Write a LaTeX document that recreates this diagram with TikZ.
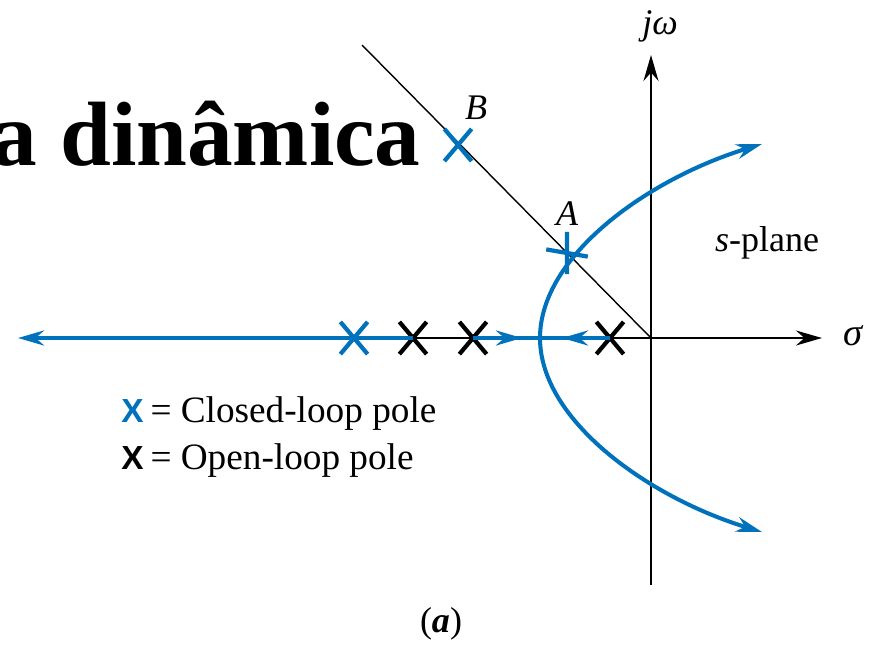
\documentclass[tikz,border=0pt]{standalone}
\usepackage{fontspec}
\setmainfont{Liberation Serif}
\newfontfamily\legendsans{Liberation Sans}
\usetikzlibrary{arrows.meta,shapes.misc}
\definecolor{locusblue}{RGB}{0,114,188}

\begin{document}
\begin{tikzpicture}[x=0.02cm,y=-0.02cm,>={Stealth[length=0.52cm,width=0.3cm]},
		pole/.style={cross out,draw,line width=2.4pt,minimum width=0.46cm,minimum height=0.56cm,inner sep=0pt},
		locus/.style={locusblue,line width=2.3pt},
		axis/.style={black,line width=1.1pt},
		lbl/.style={inner sep=0pt,font=\fontsize{20.5}{24}\selectfont}]
		\useasboundingbox (0,0) rectangle (880,646);
		\clip (0,0) rectangle (880,646);
		% title fragment
		\node[anchor=base east,inner sep=0pt,font=\fontsize{52}{60}\selectfont\bfseries] (title) at (421,165) {a dinâmica};
		% axis end points
		\coordinate (jwtop) at (651,55);
		\coordinate (jwbot) at (651,585);
		\coordinate (origin) at (651,338);
		\coordinate (sigend) at (822,338);
		\coordinate (diagtop) at (362,45);
		% axes
		\draw[axis,->] (jwbot) -- (jwtop);
		\draw[axis] (413,338) coordinate (axstart) -- (origin);
		\draw[axis,->] (origin) -- (sigend);
		\draw[black,line width=0.8pt] (diagtop) -- (origin);
		% open-loop poles
		\node[pole,black] (p1) at (610,338) {};
		\node[pole,black] (p2) at (473,338) {};
		\node[pole,black] (p3) at (413,338) {};
		% root locus on the real axis
		\coordinate (leftend) at (18,338);
		\coordinate (brk) at (540,338);
		\coordinate (midR) at (522,338);
		\coordinate (midL) at (562,338);
		\draw[locus,->] (p3.center) -- (leftend);
		\draw[locus] (p2.center) -- (brk) -- (p1.center);
		\draw[locus,->] (p2.center) -- (midR);
		\draw[locus,->] (p1.center) -- (midL);
		% complex branches
		\coordinate (tipU) at (762,144);
		\coordinate (tipD) at (762,532);
		\draw[locus,->] (brk) .. controls (540,255) and (650,178) .. (tipU);
		\draw[locus,->] (brk) .. controls (540,421) and (650,498) .. (tipD);
		% closed-loop poles
		\node[pole,locusblue] (cl) at (354,338) {};
		\node[pole,locusblue] (pB) at (458,145) {};
		\node[pole,locusblue,rotate=40] (pA) at (567,253) {};
		% labels
		\node[lbl,font=\fontsize{20.5}{24}\selectfont\itshape] (jw) at (660,26) {jω};
		\node[lbl,font=\fontsize{22}{24}\selectfont\itshape] (sig) at (853,336) {σ};
		\node[lbl] (splane) at (767,243) {\textit{s}-plane};
		\node[lbl,font=\fontsize{20.5}{24}\selectfont\itshape] (labB) at (476,108) {B};
		\node[lbl,font=\fontsize{20.5}{24}\selectfont\itshape] (labA) at (567,214) {A};
		% legend
		\node[lbl,anchor=base west,text=locusblue,font=\fontsize{19}{24}\selectfont\legendsans\bfseries] (keyC) at (121,422) {X};
		\node[lbl,anchor=base west,font=\fontsize{21.2}{24}\selectfont] (txtC) at (keyC.base east) {\,= Closed-loop pole};
		\node[lbl,anchor=base west,font=\fontsize{19}{24}\selectfont\legendsans\bfseries] (keyO) at (121,469) {X};
		\node[lbl,anchor=base west,font=\fontsize{21.2}{24}\selectfont] (txtO) at (keyO.base east) {\,= Open-loop pole};
		% caption
		\node[lbl] (cap) at (441,624) {(\textbf{\textit{a}})};
	\end{tikzpicture}
\end{document}
